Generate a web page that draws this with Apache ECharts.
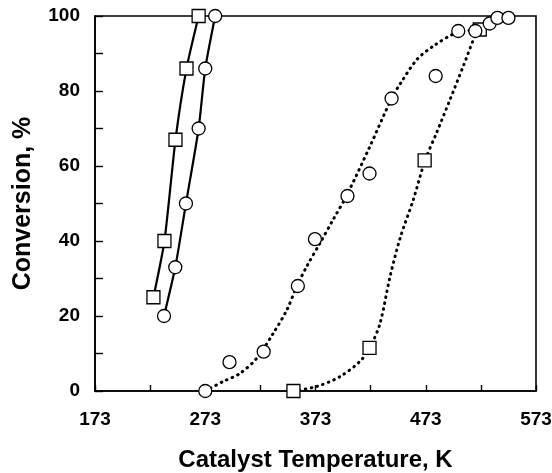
<!DOCTYPE html>
<html>
<head>
<meta charset="utf-8">
<script src="https://cdn.jsdelivr.net/npm/echarts@6/dist/echarts.min.js"></script>
<style>
  html, body { margin: 0; padding: 0; background: #fff; }
  #chart { width: 552px; height: 473px; }
</style>
</head>
<body>
<div id="chart"></div>
<script>
// x = catalyst temperature (K), y = conversion (%)
var xTickValues = [173, 223, 273, 323, 373, 423, 473, 523, 573];
var xLabelValues = [173, 273, 373, 473, 573];
var yLabelValues = [0, 20, 40, 60, 80, 100];

// squares, solid line
var sqSolidX = [226, 236, 246, 256, 267];
var sqSolidY = [25, 40, 67, 86, 100];
// circles, solid line
var ciSolidX = [235.6, 245.8, 255.5, 267, 273, 282];
var ciSolidY = [20, 33, 50, 70, 86, 100];
// circles, dotted fit
var ciDotX = [273, 295, 326, 357, 372.5, 402, 422, 442, 482, 502.5, 518, 531, 538, 548];
var ciDotY = [0, 7.7, 10.5, 28, 40.5, 52, 58, 78, 84, 96, 96, 98, 99.5, 99.5];
var ciFitX = [273, 289, 304.5, 319.6, 334.7, 347, 356, 365, 377, 389, 401, 422, 442, 450, 465, 480, 502.5, 518, 531, 540, 548];
var ciFitY = [0, 2.5, 4.7, 8.7, 15.4, 21.6, 27.9, 33.2, 39.4, 45.7, 52, 65, 78, 82, 88.4, 92, 95.8, 96.3, 98, 99.3, 99.8];
// squares, dotted fit
var sqDotX = [353, 422, 472, 522];
var sqDotY = [0, 11.5, 61.5, 96.4];
var sqFitX = [353, 374, 395, 413, 422, 431.5, 440.6, 450, 461.7, 472.3, 483, 495, 507, 519, 524];
var sqFitY = [0, 1.2, 3.8, 7.8, 11.4, 18, 30.5, 41, 51, 61.4, 69, 77.7, 86.6, 95.5, 97];

function pairs(xs, ys) {
    return xs.map(function(x, i) { return [x, ys[i]]; });
}

var font = 'Liberation Sans, Arial, sans-serif';
var markStyle = { color: '#fff', borderColor: '#000', borderWidth: 1.3, opacity: 1 };
var dotLine = { color: '#000', width: 3, type: [0.6, 5.4], cap: 'round' };

var myChart = echarts.init(document.getElementById('chart'));

var option = {
    backgroundColor: '#fff',
    animation: false,
    grid: {
        left: 95, top: 16, right: 16, bottom: 82,
        outerBoundsMode: 'none',
        show: true, borderColor: '#000', borderWidth: 1.6
    },
    xAxis: {
        type: 'value',
        min: 173, max: 573,
        name: 'Catalyst Temperature, K',
        nameLocation: 'middle',
        nameGap: 57,
        nameTextStyle: { fontFamily: font, fontWeight: 'bold', fontSize: 24, color: '#000' },
        axisLine: { lineStyle: { color: '#000', width: 1.6 } },
        axisTick: { inside: true, length: 6, customValues: xTickValues, lineStyle: { color: '#000', width: 1.4 } },
        axisLabel: { customValues: xLabelValues, margin: 19, fontFamily: font, fontWeight: 'bold', fontSize: 19, color: '#000' },
        splitLine: { show: false }
    },
    yAxis: {
        type: 'value',
        min: 0, max: 100, interval: 10,
        name: 'Conversion, %',
        nameLocation: 'middle',
        nameGap: 59,
        nameTextStyle: { fontFamily: font, fontWeight: 'bold', fontSize: 25, color: '#000' },
        axisLine: { lineStyle: { color: '#000', width: 1.6 } },
        axisTick: { inside: true, length: 8, lineStyle: { color: '#000', width: 1.4 } },
        axisLabel: { customValues: yLabelValues, margin: 15, fontFamily: font, fontWeight: 'bold', fontSize: 19, color: '#000' },
        splitLine: { show: false }
    },
    series: [
        {
            type: 'line', data: pairs(ciFitX, ciFitY), smooth: 0.3,
            showSymbol: false, lineStyle: dotLine, z: 2
        },
        {
            type: 'line', data: pairs(sqFitX, sqFitY), smooth: 0.3,
            showSymbol: false, lineStyle: dotLine, z: 2
        },
        {
            type: 'scatter', data: pairs(sqDotX, sqDotY),
            symbol: 'rect', symbolSize: 13, itemStyle: markStyle, z: 3
        },
        {
            type: 'scatter', data: pairs(ciDotX, ciDotY),
            symbol: 'circle', symbolSize: 13, itemStyle: markStyle, z: 4
        },
        {
            type: 'line', data: pairs(sqSolidX, sqSolidY), smooth: 0.2,
            symbol: 'rect', symbolSize: 13, showAllSymbol: true,
            lineStyle: { color: '#000', width: 2.2 }, itemStyle: markStyle, z: 5
        },
        {
            type: 'line', data: pairs(ciSolidX, ciSolidY), smooth: 0.2,
            symbol: 'circle', symbolSize: 13, showAllSymbol: true,
            lineStyle: { color: '#000', width: 2.2 }, itemStyle: markStyle, z: 5
        }
    ]
};

myChart.setOption(option);
</script>
</body>
</html>
